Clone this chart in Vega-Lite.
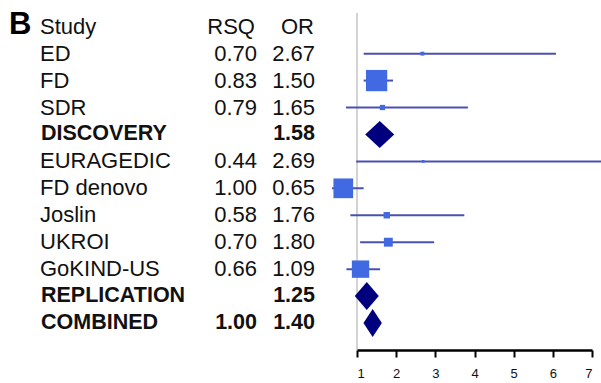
{
  "$schema": "https://vega.github.io/schema/vega-lite/v6.json",
  "width": 601,
  "height": 337,
  "autosize": "none",
  "padding": {"left": 0, "right": 0, "top": 13, "bottom": 33},
  "background": "white",
  "title": {
    "text": "B",
    "anchor": "start",
    "frame": "group",
    "orient": "top",
    "offset": -53,
    "baseline": "alphabetic",
    "dx": 9,
    "fontSize": 31,
    "fontWeight": "bold",
    "font": "Liberation Sans",
    "color": "#000000"
  },
  "config": {
    "view": {"stroke": null},
    "text": {"font": "Liberation Sans", "color": "#111111", "baseline": "middle"}
  },
  "data": {
    "values": [
      {"study": "ED", "kind": "study", "rsq": 0.70, "or": 2.67, "lo": 1.17, "hi": 6.08, "weight": 1.2},
      {"study": "FD", "kind": "study", "rsq": 0.83, "or": 1.50, "lo": 1.17, "hi": 1.92, "weight": 36.0},
      {"study": "SDR", "kind": "study", "rsq": 0.79, "or": 1.65, "lo": 0.72, "hi": 3.83, "weight": 2.2},
      {"study": "DISCOVERY", "kind": "summary", "rsq": null, "or": 1.58, "lo": 1.25, "hi": 1.98, "weight": null},
      {"study": "EURAGEDIC", "kind": "study", "rsq": 0.44, "or": 2.69, "lo": 0.98, "hi": 8.0, "weight": 0.6},
      {"study": "FD denovo", "kind": "study", "rsq": 1.00, "or": 0.65, "lo": 0.36, "hi": 1.17, "weight": 31.0},
      {"study": "Joslin", "kind": "study", "rsq": 0.58, "or": 1.76, "lo": 0.83, "hi": 3.74, "weight": 3.3},
      {"study": "UKROI", "kind": "study", "rsq": 0.70, "or": 1.80, "lo": 1.08, "hi": 2.97, "weight": 6.3},
      {"study": "GoKIND-US", "kind": "study", "rsq": 0.66, "or": 1.09, "lo": 0.73, "hi": 1.59, "weight": 24.0},
      {"study": "REPLICATION", "kind": "summary", "rsq": null, "or": 1.25, "lo": 0.98, "hi": 1.59, "weight": null},
      {"study": "COMBINED", "kind": "summary", "rsq": 1.00, "or": 1.40, "lo": 1.19, "hi": 1.66, "weight": null}
    ]
  },
  "layer": [
    {
      "description": "null-effect reference line at OR = 1",
      "mark": {"type": "rule", "color": "#d3d3d3", "strokeWidth": 1.5},
      "encoding": {
        "x": {"datum": 1, "type": "quantitative", "scale": {"domain": [1, 7], "range": [357, 592], "zero": false, "nice": false}}
      }
    },
    {
      "description": "95% confidence intervals of the single studies, carrying the OR axis",
      "transform": [{"filter": "datum.kind === 'study'"}],
      "mark": {"type": "rule", "color": "#4a50b0", "strokeWidth": 2},
      "encoding": {
        "x": {
          "field": "lo",
          "type": "quantitative",
          "axis": {
            "values": [1, 2, 3, 4, 5, 6, 7],
            "format": "d",
            "title": null,
            "grid": false,
            "domain": true,
            "domainColor": "#000000",
            "domainOpacity": 1,
            "domainWidth": 2.5,
            "ticks": true,
            "tickColor": "#000000",
            "tickWidth": 2,
            "tickSize": 7,
            "labelFont": "Liberation Sans",
            "labelFontSize": 13,
            "labelColor": "#111111",
            "labelPadding": 16,
            "labelBaseline": "middle",
            "zindex": 1
          }
        },
        "x2": {"field": "hi"},
        "y": {"field": "study", "type": "nominal", "scale": {"type": "point", "padding": 0, "domain": ["Study", "ED", "FD", "SDR", "DISCOVERY", "EURAGEDIC", "FD denovo", "Joslin", "UKROI", "GoKIND-US", "REPLICATION", "COMBINED"], "range": [13.7, 310]}, "axis": null}
      }
    },
    {
      "description": "study estimates, box area proportional to weight",
      "transform": [{"filter": "datum.kind === 'study'"}],
      "mark": {"type": "point", "shape": "square", "filled": true, "color": "#4169e1", "opacity": 1},
      "encoding": {
        "x": {"field": "or", "type": "quantitative"},
        "y": {"field": "study", "type": "nominal"},
        "size": {"field": "weight", "type": "quantitative", "scale": {"domain": [0, 100], "range": [0, 1256]}, "legend": null}
      }
    },
    {
      "description": "pooled estimates",
      "transform": [{"filter": "datum.kind === 'summary'"}],
      "mark": {"type": "point", "filled": true, "color": "#00007f", "opacity": 1, "size": 784},
      "encoding": {
        "x": {"field": "or", "type": "quantitative"},
        "y": {"field": "study", "type": "nominal"},
        "shape": {
          "field": "study",
          "type": "nominal",
          "scale": {
            "domain": ["DISCOVERY", "REPLICATION", "COMBINED"],
            "range": ["M-1.036,0L0,-0.964L1.036,0L0,0.964Z", "M-0.857,0L0,-1L0.857,0L0,1Z", "M-0.657,0L0,-1L0.657,0L0,1Z"]
          },
          "legend": null
        }
      }
    },
    {
      "data": {"values": [{"label": "Study"}]},
      "mark": {"type": "text", "align": "left", "fontSize": 22},
      "encoding": {"x": {"value": 40}, "y": {"datum": "Study", "type": "nominal"}, "text": {"field": "label"}}
    },
    {
      "data": {"values": [{"label": "RSQ"}]},
      "mark": {"type": "text", "align": "right", "fontSize": 22},
      "encoding": {"x": {"value": 255}, "y": {"datum": "Study", "type": "nominal"}, "text": {"field": "label"}}
    },
    {
      "data": {"values": [{"label": "OR"}]},
      "mark": {"type": "text", "align": "right", "fontSize": 22},
      "encoding": {"x": {"value": 314}, "y": {"datum": "Study", "type": "nominal"}, "text": {"field": "label"}}
    },
    {
      "transform": [{"filter": "datum.kind === 'study'"}],
      "mark": {"type": "text", "align": "left", "fontSize": 22},
      "encoding": {"x": {"value": 40}, "y": {"field": "study", "type": "nominal"}, "text": {"field": "study"}}
    },
    {
      "transform": [{"filter": "datum.kind === 'summary'"}],
      "mark": {"type": "text", "align": "left", "fontSize": 21.5, "fontWeight": "bold"},
      "encoding": {"x": {"value": 41}, "y": {"field": "study", "type": "nominal"}, "text": {"field": "study"}}
    },
    {
      "transform": [{"filter": "datum.kind === 'study' && isValid(datum.rsq)"}],
      "mark": {"type": "text", "align": "right", "fontSize": 22},
      "encoding": {"x": {"value": 257}, "y": {"field": "study", "type": "nominal"}, "text": {"field": "rsq", "type": "quantitative", "format": ".2f"}}
    },
    {
      "transform": [{"filter": "datum.kind === 'summary' && isValid(datum.rsq)"}],
      "mark": {"type": "text", "align": "right", "fontSize": 21.5, "fontWeight": "bold"},
      "encoding": {"x": {"value": 257}, "y": {"field": "study", "type": "nominal"}, "text": {"field": "rsq", "type": "quantitative", "format": ".2f"}}
    },
    {
      "transform": [{"filter": "datum.kind === 'study'"}],
      "mark": {"type": "text", "align": "right", "fontSize": 22},
      "encoding": {"x": {"value": 315}, "y": {"field": "study", "type": "nominal"}, "text": {"field": "or", "type": "quantitative", "format": ".2f"}}
    },
    {
      "transform": [{"filter": "datum.kind === 'summary'"}],
      "mark": {"type": "text", "align": "right", "fontSize": 21.5, "fontWeight": "bold"},
      "encoding": {"x": {"value": 315}, "y": {"field": "study", "type": "nominal"}, "text": {"field": "or", "type": "quantitative", "format": ".2f"}}
    }
  ]
}
